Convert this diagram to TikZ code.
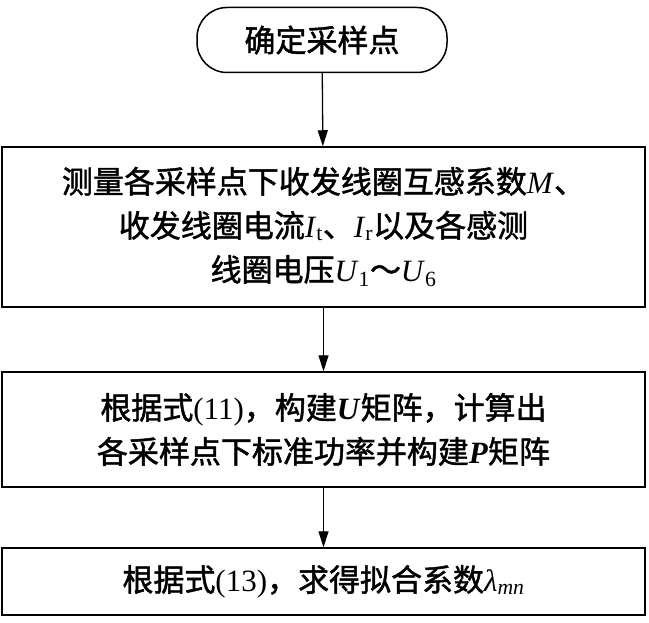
\documentclass[tikz,border=0pt]{standalone}
\usepackage{fontspec}
\setmainfont{Liberation Serif}
\newfontfamily\cjk[FakeBold=1.5]{Noto Sans CJK SC}
\newcommand{\zh}[1]{{\cjk #1}}
\newcommand{\sub}[1]{\textsubscript{#1}}
\usetikzlibrary{positioning,arrows.meta}
\begin{document}
\begin{tikzpicture}[x=1pt,y=1pt,
    font=\fontsize{31}{44}\selectfont,
    box/.style={draw,line width=1.5pt,minimum width=643pt,text width=630pt,align=center,inner sep=0pt},
    start/.style={draw,line width=1.5pt,rounded corners=30pt,minimum width=250pt,minimum height=65pt},
    flow/.style={-{Triangle[length=16pt,width=10pt]},line width=1.3pt}]

    \useasboundingbox (0,0) rectangle (649,-623);

    % Define nodes
    \node[start] (S) at (322,-40) {\zh{确定采样点}};
    \node[box,minimum height=160pt] (M) at (323.5,-227)
      {\zh{测量各采样点下收发线圈互感系数}\textit{M}\zh{、}\\
       \zh{收发线圈电流}\textit{I}\sub{t}\zh{、}\textit{I}\sub{r}\zh{以及各感测}\\
       \zh{线圈电压}\textit{U}\sub{1}\zh{～}\textit{U}\sub{6}};
    \node[box,minimum height=115pt] (P) at (323.5,-429.5)
      {\zh{根据式}(11)\zh{，构建}\textbf{\textit{U}}\zh{矩阵，计算出}\\
       \zh{各采样点下标准功率并构建}\textbf{\textit{P}}\zh{矩阵}};
    \node[box,minimum height=67pt] (L) at (323.5,-581.5)
      {\zh{根据式}(13)\zh{，求得拟合系数}\textit{λ}\sub{\textit{mn}}};

    % Draw edges
    \draw[flow] (S) -- (M);
    \draw[flow] (M) -- (P);
    \draw[flow] (P) -- (L);

\end{tikzpicture}
\end{document}
